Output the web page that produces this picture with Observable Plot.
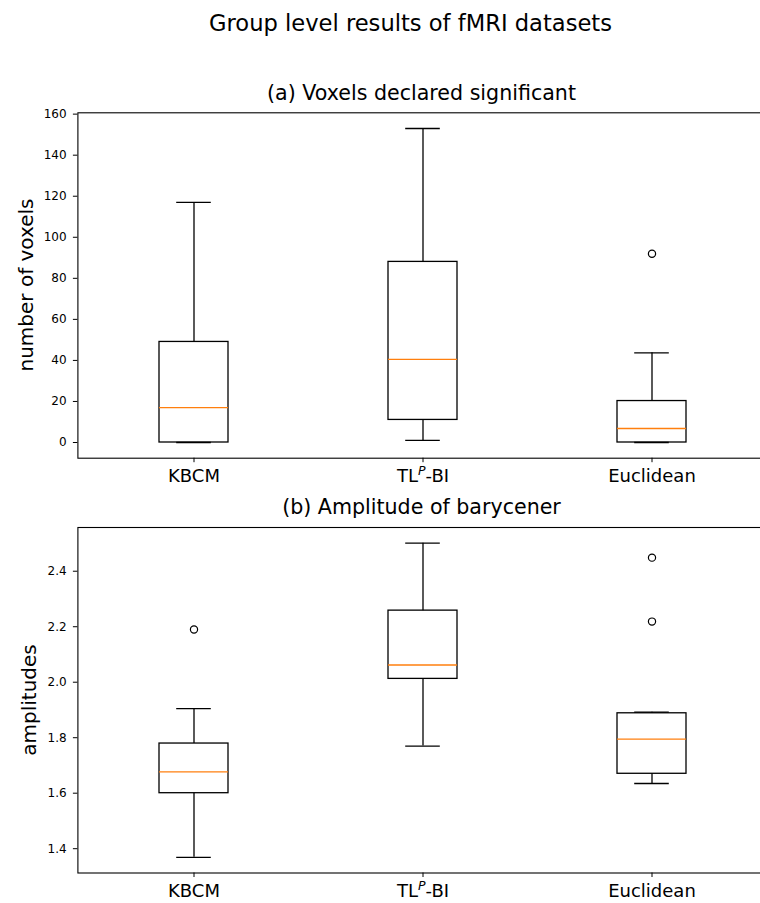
<!DOCTYPE html>
<html>
<head>
<meta charset="utf-8">
<script src="https://cdn.jsdelivr.net/npm/d3@7"></script>
<script src="https://cdn.jsdelivr.net/npm/@observablehq/plot@0.6"></script>
<style>
  html, body { margin: 0; padding: 0; background: #fff; overflow: hidden; }
  #fig { position: relative; width: 760px; height: 903px; overflow: hidden; background: #fff;
         font-family: "DejaVu Sans", sans-serif; color: #000; }
  .t { position: absolute; text-align: center; line-height: 1; white-space: nowrap; }
  .yl { position: absolute; width: 300px; height: 20px; font-size: 20px; text-align: center;
        line-height: 1; white-space: nowrap; transform: rotate(-90deg); transform-origin: 50% 50%; }
  #fig svg { position: absolute; left: 0; max-width: none !important; }
</style>
</head>
<body>
<div id="fig">
  <div class="t" style="left:110.5px; width:600px; top:11.6px; font-size:22.6px;">Group level results of fMRI datasets</div>
  <div class="t" style="left:221.5px; width:400px; top:82.6px; font-size:20.6px;">(a) Voxels declared significant</div>
  <div class="t" style="left:221.5px; width:400px; top:497.1px; font-size:20.6px;">(b) Amplitude of barycener</div>
  <div class="yl" style="left:-123.9px; top:275px;">number of voxels</div>
  <div class="yl" style="left:-121px; top:689.75px;">amplitudes</div>
</div>
<script>
// ---- data ----
const methods = ["KBCM", "TL^P-BI", "Euclidean"];

// (a) Voxels declared significant
const voxLow    = [0, 1, 0];
const voxQ1     = [0, 11, 0];
const voxMedian = [17, 40.5, 6.8];
const voxQ3     = [49, 88, 20.2];
const voxHigh   = [117, 153, 43.7];
const voxOutliers = [[], [], [92]];
const voxTicks  = [0, 20, 40, 60, 80, 100, 120, 140, 160];

// (b) Amplitude of barycener
const ampLow    = [1.369, 1.770, 1.635];
const ampQ1     = [1.600, 2.012, 1.670];
const ampMedian = [1.677, 2.062, 1.795];
const ampQ3     = [1.779, 2.258, 1.888];
const ampHigh   = [1.905, 2.501, 1.892];
const ampOutliers = [[2.19], [], [2.449, 2.2185]];
const ampTicks  = [1.4, 1.6, 1.8, 2.0, 2.2, 2.4];

function build(low, q1, med, q3, high, outl, ticks, fmt, opts) {
  const boxes = methods.map((m, i) => ({m, low: low[i], q1: q1[i], med: med[i], q3: q3[i], high: high[i]}));
  const outs = methods.flatMap((m, i) => outl[i].map(v => ({m, v})));
  const all = boxes.flatMap(b => [b.low, b.high]).concat(outs.map(o => o.v));
  const lo = d3.min(all), hi = d3.max(all), pad = (hi - lo) * 0.05;
  const capInset = 17.2;
  return Plot.plot({
    width: 770,
    height: opts.height,
    marginLeft: 77.4,
    marginRight: 3.1,
    marginTop: opts.marginTop,
    marginBottom: opts.marginBottom,
    style: {fontFamily: "DejaVu Sans", fontSize: "12px", color: "#000", background: "transparent", overflow: "visible", maxWidth: "none"},
    x: {type: "band", domain: methods, paddingInner: 0.7, paddingOuter: 0.35},
    y: {domain: [lo - pad, hi + pad]},
    marks: [
      Plot.ruleX(boxes, {x: "m", y1: "low", y2: "q1", stroke: "#000", strokeWidth: 1.3}),
      Plot.ruleX(boxes, {x: "m", y1: "q3", y2: "high", stroke: "#000", strokeWidth: 1.3}),
      Plot.tickY(boxes, {x: "m", y: "low", stroke: "#000", strokeWidth: 1.3, insetLeft: capInset, insetRight: capInset}),
      Plot.tickY(boxes, {x: "m", y: "high", stroke: "#000", strokeWidth: 1.3, insetLeft: capInset, insetRight: capInset}),
      Plot.barY(boxes, {x: "m", y1: "q1", y2: "q3", fill: "none", stroke: "#000", strokeWidth: 1.3}),
      Plot.tickY(boxes, {x: "m", y: "med", stroke: "#ff7f0e", strokeWidth: 1.4}),
      Plot.dot(outs, {x: "m", y: "v", r: 3.6, stroke: "#000", strokeWidth: 1.2, fill: "none"}),
      Plot.frame({stroke: "#000", strokeWidth: 1.1}),
      Plot.axisY({ticks: ticks, tickFormat: fmt, tickSize: 4.5, tickPadding: 6.8, fontSize: 12, label: null, stroke: "#000"}),
      Plot.axisX({tickSize: 4.5, tickPadding: 6.5, fontSize: 18, label: null, stroke: "#000"})
    ]
  });
}

function fixLabels(svg) {
  svg.querySelectorAll("text").forEach(t => {
    if (t.textContent === "TL^P-BI") {
      const ns = "http://www.w3.org/2000/svg";
      const tgt = t.querySelector("tspan") || t;
      while (tgt.firstChild) tgt.removeChild(tgt.firstChild);
      tgt.appendChild(document.createTextNode("TL"));
      const sup = document.createElementNS(ns, "tspan");
      sup.setAttribute("font-size", "12.5px");
      sup.setAttribute("font-style", "italic");
      sup.setAttribute("dy", "-7");
      sup.textContent = "P";
      tgt.appendChild(sup);
      const rest = document.createElementNS(ns, "tspan");
      rest.setAttribute("dy", "7");
      rest.textContent = "-BI";
      tgt.appendChild(rest);
    }
  });
}

const fig = document.getElementById("fig");
const p1 = build(voxLow, voxQ1, voxMedian, voxQ3, voxHigh, voxOutliers, voxTicks, d3.format("d"),
  {height: 400, marginTop: 22.3, marginBottom: 32.3});
p1.style.top = "90px";
fixLabels(p1);
fig.appendChild(p1);

const p2 = build(ampLow, ampQ1, ampMedian, ampQ3, ampHigh, ampOutliers, ampTicks, d3.format(".1f"),
  {height: 413, marginTop: 37, marginBottom: 30.5});
p2.style.top = "490px";
fixLabels(p2);
fig.appendChild(p2);
</script>
</body>
</html>
